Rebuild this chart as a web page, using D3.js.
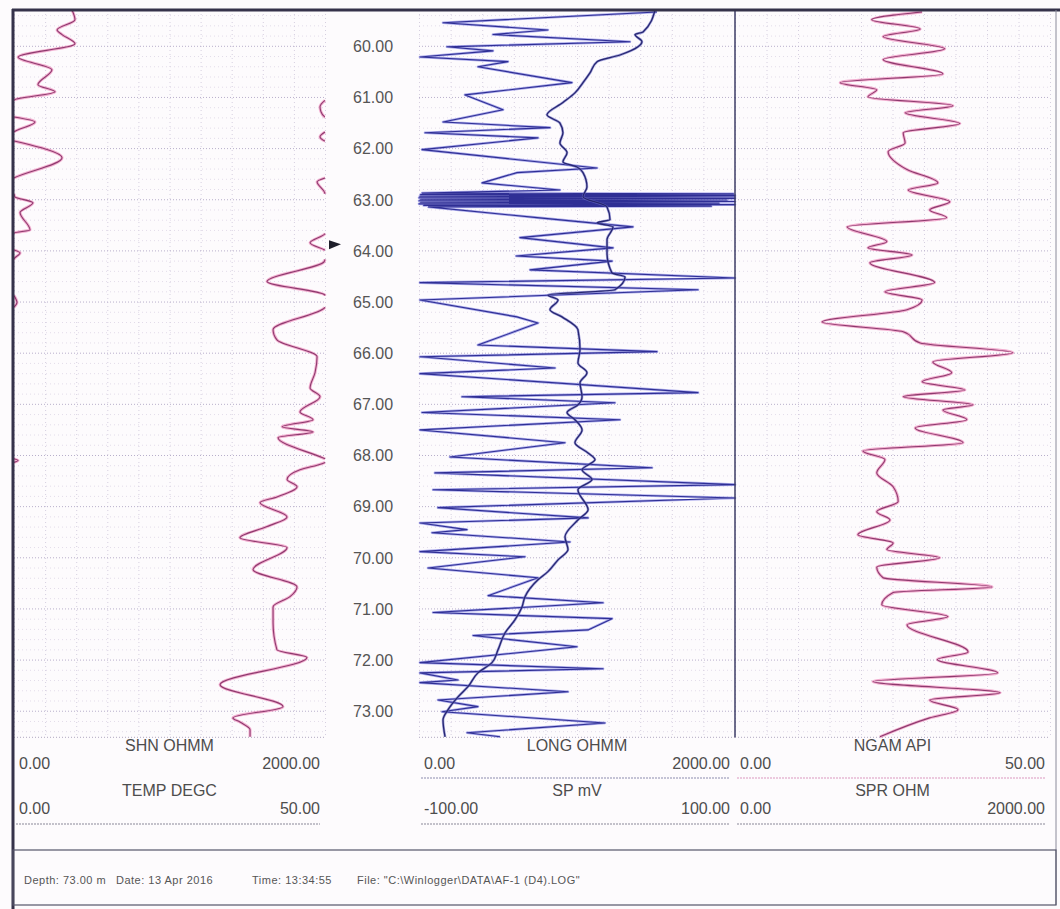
<!DOCTYPE html>
<html lang="en">
  <head>
    <meta charset="UTF-8" />
    <title>Well log AF-1</title>
    <script src="https://d3js.org/d3.v7.min.js"></script>
    <style>
      body { margin: 0; background: #fff; }
      svg { display: block; font-family: "Liberation Sans", Arial, sans-serif; }
      .grid line { stroke: #b8afcb; stroke-dasharray: 1, 2; }
      .minor line { stroke: #e3dcea; stroke-dasharray: 1, 3; }
      .vgrid line { stroke: #d6cfe0; stroke-dasharray: 1, 3; }
      .domain { display: none; }
      .lbl { fill: #4d4d4d; font-size: 16px; }
      .depth text { fill: #555; font-size: 16px; }
      .foot { fill: #555; font-size: 11px; letter-spacing: 0.5px; }
    </style>
  </head>
  <body>
    <svg width="1060" height="909"></svg>
    <script>
      // depth (m), value pairs
      const shnData = [
        [59.30, 2373], [59.49, 2392], [59.69, 2277], [59.78, 2309], [59.96, 2392],
        [60.22, 2026], [60.47, 2244], [60.76, 2154], [60.90, 2264], [61.06, 2002],
        [61.19, 1968], [61.29, 1974], [61.39, 1998], [61.49, 2135], [61.68, 2002],
        [61.78, 1968], [61.86, 1998], [62.19, 2309], [62.58, 2002], [62.66, 1949],
        [62.87, 1998], [62.95, 2005], [63.07, 2122], [63.26, 2039], [63.60, 2103],
        [63.66, 2002], [63.68, 1998], [63.85, 1904], [63.99, 1998], [64.05, 2039],
        [64.16, 2002], [64.22, 1995], [64.61, 1627], [64.87, 1998], [65.02, 2019],
        [65.12, 1998], [65.55, 1666], [65.75, 1691], [66.08, 1949], [66.39, 1936],
        [66.69, 1904], [66.86, 1968], [67.16, 1839], [67.31, 1923], [67.45, 1724],
        [67.55, 1923], [67.66, 1698], [68.05, 1981], [68.11, 2026], [68.17, 1981],
        [68.29, 1839], [68.48, 1756], [68.62, 1820], [68.82, 1691], [68.93, 1582],
        [69.21, 1756], [69.40, 1627], [69.62, 1453], [69.81, 1756], [70.24, 1537],
        [70.58, 1820], [70.77, 1775], [70.97, 1666], [71.28, 1666], [71.81, 1691],
        [71.96, 1884], [72.49, 1325], [72.92, 1730], [73.14, 1408], [73.22, 1453],
        [73.37, 1518], [73.51, 1518]
      ];

      const longData = [
        [59.34, 1506], [59.55, 152], [59.69, 816], [59.78, 468], [59.92, 1335],
        [60.02, 177], [60.10, 468], [60.22, 6], [60.31, 563], [60.41, 373],
        [60.72, 968], [60.96, 291], [61.25, 532], [61.49, 152], [61.60, 829],
        [61.70, 38], [61.80, 753], [62.03, 19], [62.39, 1127], [62.48, 620],
        [62.68, 399], [62.82, 892],
        [62.88, 20], [62.895, 1990], [62.91, 10], [62.925, 2000], [62.94, 5],
        [62.955, 2000], [62.97, 0], [62.985, 2000], [63.00, 10], [63.015, 1950],
        [63.03, 0], [63.045, 2000], [63.06, 10], [63.075, 1900], [63.09, 0],
        [63.105, 2000], [63.12, 30], [63.135, 1850], [63.15, 60],
        [63.36, 747], [63.54, 1354], [63.75, 639], [63.95, 1228], [64.11, 615],
        [64.21, 1222], [64.38, 703], [64.54, 2000], [64.63, 6], [64.77, 1766],
        [64.97, 6], [65.30, 620], [65.42, 753], [65.85, 373], [65.98, 1506],
        [66.08, 6], [66.30, 861], [66.41, 6], [66.78, 1766], [66.86, 272],
        [66.98, 1240], [67.17, 19], [67.31, 1272], [67.51, 6], [67.76, 924],
        [68.04, 196], [68.25, 1475], [68.35, 101], [68.58, 2000], [68.68, 89],
        [68.84, 2000], [69.03, 120], [69.23, 1070], [69.33, 6], [69.46, 304],
        [69.52, 82], [69.70, 956], [69.89, 6], [69.99, 671], [70.21, 57],
        [70.40, 753], [70.75, 437], [70.89, 1165], [71.08, 89], [71.20, 1222],
        [71.42, 1070], [71.53, 342], [71.75, 1000], [72.06, 6], [72.18, 1165],
        [72.26, 6], [72.40, 247], [72.45, 6], [72.63, 943], [72.79, 120],
        [72.92, 373], [73.02, 146], [73.24, 1177], [73.43, 304], [73.51, 513]
      ];

      const spData = [
        [59.30, 49.4], [59.73, 41.8], [59.78, 36.7], [59.92, 41.1], [60.02, 38.6],
        [60.18, 27.2], [60.31, 12.7], [60.53, 8.2], [60.72, 3.8], [60.92, -1.3],
        [61.11, -8.9], [61.35, -19], [61.51, -10.8], [61.70, -8.9], [61.90, -10.8],
        [62.09, -6.3], [62.27, -8.9], [62.37, 0], [62.48, 3.8], [62.76, 6.3],
        [62.95, 3.8], [63.15, 19], [63.40, 20.9], [63.46, 12.7], [63.54, 22.8],
        [63.79, 19], [64.05, 19], [64.44, 22.1], [64.52, 30.4], [64.77, 24],
        [64.87, -18.4], [64.97, -12], [65.16, -17.1], [65.30, -9.5], [65.55, 0.6],
        [65.94, 1.9], [66.20, 0.6], [66.39, 6.3], [66.59, 1.9], [66.86, 3.2],
        [67.02, 0.6], [67.17, -6.3], [67.31, -1.3], [67.51, 3.2], [67.76, -1.3],
        [67.96, 7], [68.09, 11.4], [68.29, 3.2], [68.48, 9.5], [68.68, 0.6],
        [69.07, 7], [69.27, 0.6], [69.60, -7.6], [69.85, -5.7], [70.05, -12],
        [70.28, -18.4], [70.44, -24.7], [70.77, -32.9], [70.97, -34.8], [71.22, -39.2],
        [71.48, -45.6], [71.81, -50], [72.06, -53.8], [72.26, -62.7], [72.53, -69],
        [72.73, -75.3], [72.98, -81.6], [73.18, -84.8], [73.51, -83.5]
      ];

      const ngamData = [
        [59.34, 29.7], [59.49, 21.7], [59.67, 29.4], [59.82, 23.5], [60.06, 33.3],
        [60.27, 23.5], [60.55, 33.0], [60.72, 16.7], [60.86, 22.5], [61.00, 21.1],
        [61.17, 34.6], [61.31, 27.0], [61.52, 35.7], [61.70, 26.7], [61.90, 27.0],
        [62.07, 24.3], [62.42, 27.3], [62.68, 32.2], [62.82, 27.5], [63.05, 34.1],
        [63.21, 30.9], [63.36, 33.6], [63.54, 17.8], [63.83, 24.1], [63.95, 21.1],
        [64.09, 28.1], [64.24, 21.4], [64.63, 31.7], [64.81, 23.8], [64.97, 29.7],
        [65.16, 27.3], [65.40, 13.8], [65.59, 26.7], [65.81, 29.4], [66.00, 44.1],
        [66.18, 31.4], [66.39, 34.4], [66.57, 29.7], [66.73, 36.5], [66.86, 26.7],
        [67.02, 37.8], [67.12, 33.0], [67.31, 36.8], [67.47, 28.6], [67.76, 36.2],
        [67.92, 20.3], [68.09, 23.8], [68.35, 22.5], [68.62, 25.1], [68.91, 25.9],
        [69.11, 22.5], [69.27, 24.6], [69.56, 19.5], [69.72, 25.1], [69.85, 24.1],
        [70.01, 32.5], [70.19, 22.5], [70.40, 23.5], [70.58, 40.8], [70.69, 25.1],
        [70.93, 23.3], [71.16, 33.8], [71.32, 27.3], [71.85, 37.0], [72.00, 32.1],
        [72.26, 41.7], [72.43, 21.9], [72.65, 42.1], [72.79, 30.9], [72.98, 35.4],
        [73.14, 30.9], [73.51, 23.0]
      ];

      const depthTicks = d3.range(60, 74);
      const markerDepth = 63.88;

      const svg = d3.select("svg");
      const yTop = 10;
      const yBottom = 736.3;

      svg.append("rect").attr("width", 1060).attr("height", 909).attr("fill", "#fdfbfd");

      const y = d3.scaleLinear().domain([59.3, 73.5]).range([yTop, yBottom]);

      // tracks: [left, right]
      const t1 = [14, 325];
      const t2 = [419, 735];
      const t3 = [735, 1050];

      const shnX = d3.scaleLinear().domain([0, 2000]).range(t1);
      const longX = d3.scaleLinear().domain([0, 2000]).range(t2);
      const spX = d3.scaleLinear().domain([-100, 100]).range(t2);
      const ngamX = d3.scaleLinear().domain([0, 50]).range(t3);

      // grid for each track
      const minorTicks = d3.range(59.4, 73.5, 0.2).filter((d) => Math.abs(d - Math.round(d)) > 0.05);
      [t1, t2, t3].forEach((t) => {
        const w = t[1] - t[0];
        svg.append("g").attr("class", "minor")
          .attr("transform", `translate(${t[0]},0)`)
          .call(d3.axisLeft(y).tickValues(minorTicks).tickSize(-w).tickFormat(""));
        const xs = d3.scaleLinear().domain([0, 10]).range(t);
        svg.append("g").attr("class", "vgrid")
          .attr("transform", `translate(0,${yTop})`)
          .call(d3.axisTop(xs).ticks(10).tickSize(-(yBottom - yTop)).tickFormat(""));
        svg.append("g").attr("class", "grid")
          .attr("transform", `translate(${t[0]},0)`)
          .call(d3.axisLeft(y).tickValues(depthTicks).tickSize(-w).tickFormat(""));
        svg.append("line").attr("x1", t[0]).attr("x2", t[1])
          .attr("y1", yBottom + 1).attr("y2", yBottom + 1)
          .attr("stroke", "#b0a8c0").attr("stroke-dasharray", "1,2");
      });

      // depth labels in the middle column
      const depthAxis = svg.append("g").attr("class", "depth")
        .attr("transform", "translate(373,0)")
        .call(d3.axisLeft(y).tickValues(depthTicks).tickSize(0).tickFormat(d3.format(".2f")));
      depthAxis.selectAll("text").attr("x", 0).attr("text-anchor", "middle").attr("dy", "0.36em");

      // depth pointer
      const my = y(markerDepth);
      svg.append("path")
        .attr("d", `M329,${my - 4}L341,${my}L329,${my + 5}Z`)
        .attr("fill", "#1e1e2a");

      // values over full scale wrap back to the left edge
      function wrapSegments(data, max) {
        const segs = [];
        let cur = [];
        data.forEach(([d, v], i) => {
          const band = Math.floor(v / max);
          if (i > 0) {
            const [pd, pv] = data[i - 1];
            const pband = Math.floor(pv / max);
            if (band !== pband) {
              const edge = Math.max(band, pband) * max;
              const dc = pd + ((edge - pv) / (v - pv)) * (d - pd);
              cur.push([dc, edge - pband * max]);
              segs.push(cur);
              cur = [[dc, edge - band * max]];
            }
          }
          cur.push([d, v - band * max]);
        });
        segs.push(cur);
        return segs;
      }

      function drawCurve(segs, xs, curve, halo, core, hw, cw) {
        const line = d3.line().x((d) => xs(d[1])).y((d) => y(d[0])).curve(curve);
        const g = svg.append("g").attr("fill", "none").attr("stroke-linejoin", "round");
        g.selectAll(".h").data(segs).enter().append("path")
          .attr("d", line).attr("stroke", halo).attr("stroke-width", hw).attr("stroke-opacity", 0.65);
        g.selectAll(".c").data(segs).enter().append("path")
          .attr("d", line).attr("stroke", core).attr("stroke-width", cw);
      }

      drawCurve(wrapSegments(shnData, 2000), shnX, d3.curveMonotoneY, "#ec86b9", "#8e3a6e", 3, 1.1);
      drawCurve([longData], longX, d3.curveLinear, "#7f80e2", "#2f2f95", 2.6, 1.1);
      drawCurve([spData], spX, d3.curveMonotoneY, "#6d6dc8", "#262670", 2.6, 1.3);
      drawCurve([ngamData], ngamX, d3.curveMonotoneY, "#ec86b9", "#8e3a6e", 3, 1.1);

      // track 2 right edge
      svg.append("line").attr("x1", 735).attr("x2", 735).attr("y1", yTop).attr("y2", yBottom + 1)
        .attr("stroke", "#3d3d66").attr("stroke-width", 1.5);

      // frame
      svg.append("line").attr("x1", 12).attr("x2", 1060).attr("y1", 10).attr("y2", 10)
        .attr("stroke", "#35324a").attr("stroke-width", 3);
      svg.append("line").attr("x1", 13).attr("x2", 13).attr("y1", 9).attr("y2", 909)
        .attr("stroke", "#35324a").attr("stroke-width", 3);
      svg.append("line").attr("x1", 1056).attr("x2", 1056).attr("y1", 10).attr("y2", 905)
        .attr("stroke", "#8a8a9a").attr("stroke-width", 1);

      // scale headers
      function header(t, row, name, lo, hi, line) {
        const cx = (t[0] + t[1]) / 2;
        const y0 = 751 + row * 45;
        svg.append("text").attr("class", "lbl").attr("x", cx).attr("y", y0)
          .attr("text-anchor", "middle").text(name);
        svg.append("text").attr("class", "lbl").attr("x", t[0] + 5).attr("y", y0 + 18).text(lo);
        svg.append("text").attr("class", "lbl").attr("x", t[1] - 5).attr("y", y0 + 18)
          .attr("text-anchor", "end").text(hi);
        if (line) {
          svg.append("line").attr("x1", t[0] + 2).attr("x2", t[1] - 5)
            .attr("y1", y0 + 27 + row * 1).attr("y2", y0 + 27 + row * 1)
            .attr("stroke", line).attr("stroke-width", 1.2).attr("stroke-dasharray", "2,1");
        }
      }
      header(t1, 0, "SHN OHMM", "0.00", "2000.00", null);
      header(t1, 1, "TEMP DEGC", "0.00", "50.00", "#8a8898");
      header(t2, 0, "LONG OHMM", "0.00", "2000.00", "#8c8cae");
      header(t2, 1, "SP mV", "-100.00", "100.00", "#8a8898");
      header(t3, 0, "NGAM API", "0.00", "50.00", "#dc98bf");
      header(t3, 1, "SPR OHM", "0.00", "2000.00", "#8a8898");

      // footer box
      svg.append("rect").attr("x", 13).attr("y", 850).attr("width", 1043).attr("height", 55)
        .attr("fill", "none").attr("stroke", "#55556a").attr("stroke-width", 1.2);
      const foot = ["Depth: 73.00 m", "Date: 13 Apr 2016", "Time: 13:34:55",
        "File: \"C:\\Winlogger\\DATA\\AF-1 (D4).LOG\""];
      const footX = [24, 116, 252, 357];
      svg.append("g").selectAll("text").data(foot).enter().append("text")
        .attr("class", "foot")
        .attr("x", (d, i) => footX[i]).attr("y", 884)
        .text((d) => d);
    </script>
  </body>
</html>
